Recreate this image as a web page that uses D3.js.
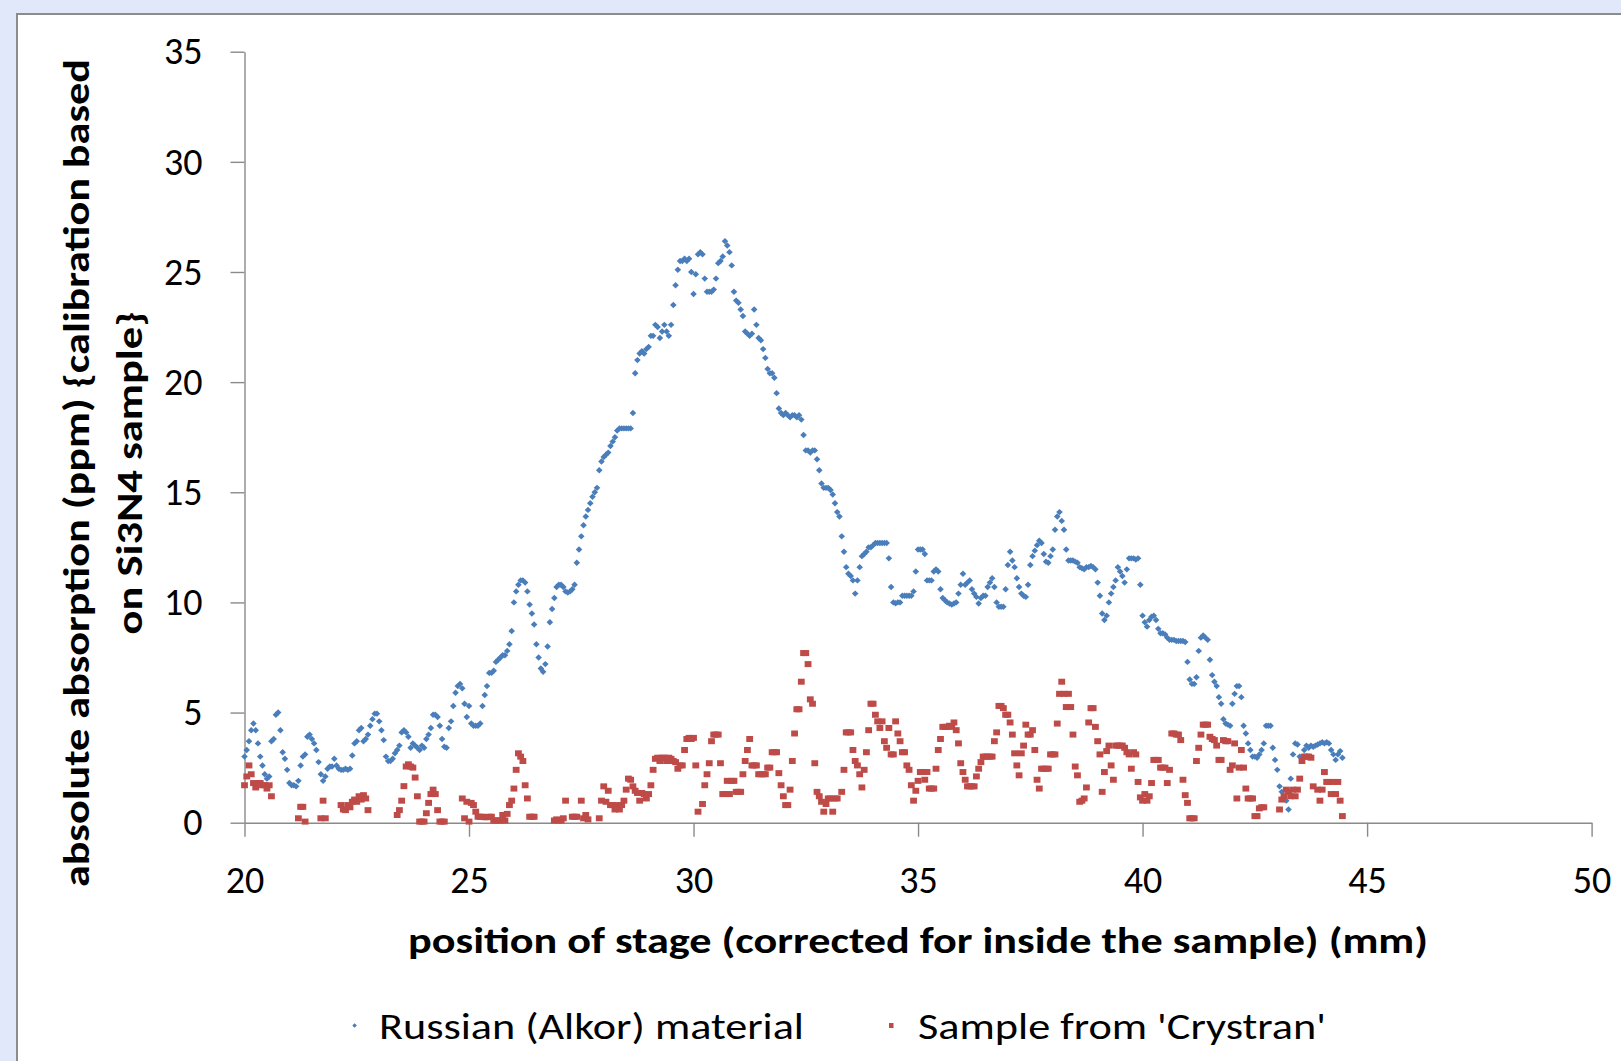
<!DOCTYPE html>
<html>
<head>
<meta charset="utf-8">
<script src="https://cdn.jsdelivr.net/npm/d3@7"></script>
<style>
  html, body { margin: 0; padding: 0; background: #E0E8F9; }
  svg { display: block; }
  text { font-family: Carlito, Calibri, Lato, "Open Sans", sans-serif; fill: #000; }
</style>
</head>
<body>
<svg id="chart" width="1621" height="1061"></svg>
<script>
// Stage scan: readings every 0.05 mm starting at 20 mm.
const scanStart = 20;
const scanStep = 0.05;

// Absorption (ppm) of the Russian (Alkor) material, one row per millimetre.
const russian = [
  3.0,3.3,3.7,4.2,4.5,4.2,3.6,3.0,2.6,2.2,2.0,2.1,3.7,3.8,4.9,5.0,4.2,3.2,2.9,2.4,
  1.8,1.7,1.7,1.65,1.9,2.6,3.0,3.1,3.9,4.0,3.8,3.6,3.3,2.75,2.2,1.9,2.1,2.45,2.55,2.55,
  2.9,2.6,2.45,2.4,2.4,2.45,2.4,2.45,3.05,3.6,3.7,4.2,4.3,3.7,3.8,4.0,4.4,4.7,4.95,4.95,
  4.6,4.2,3.75,3.0,2.8,2.8,2.9,3.15,3.3,3.5,4.1,4.2,4.1,3.9,3.4,3.6,3.5,3.4,3.3,3.5,
  3.4,3.8,4.0,4.3,4.9,4.9,4.8,4.4,3.8,3.45,3.4,4.3,4.6,5.3,5.9,6.2,6.3,6.1,5.4,4.8,
  5.3,4.5,4.4,4.4,4.4,4.5,5.3,5.8,6.2,6.8,6.8,6.9,7.3,7.4,7.5,7.6,7.6,7.8,8.1,8.7,
  10.0,10.5,10.8,11.0,11.0,10.9,10.5,9.9,9.5,9.0,8.1,7.5,7.0,6.85,7.2,8.0,9.1,9.7,10.2,10.7,
  10.8,10.8,10.7,10.5,10.45,10.5,10.6,10.8,11.8,12.4,13.0,13.5,13.9,14.2,14.5,14.8,15.0,15.2,16.0,16.4,
  16.6,16.7,16.8,17.1,17.3,17.5,17.8,17.9,17.9,17.9,17.9,17.9,17.9,18.6,20.4,21.0,21.3,21.4,21.3,21.5,
  21.6,22.1,22.1,22.6,22.5,22.0,22.3,22.6,22.3,22.1,22.6,23.5,24.4,25.1,25.5,25.5,25.6,25.5,25.6,25.0,
  24.0,24.9,25.8,25.9,25.8,24.7,24.1,24.1,24.1,24.2,24.7,25.4,25.5,25.7,26.4,26.2,25.9,25.3,24.1,23.7,
  23.6,23.3,23.0,22.3,22.2,22.1,22.2,23.3,22.6,22.0,21.9,21.5,21.1,20.6,20.4,20.4,20.2,19.5,18.8,18.6,
  18.5,18.6,18.5,18.4,18.5,18.5,18.4,18.5,18.3,17.6,16.9,16.9,16.8,16.9,16.9,16.5,16.0,15.4,15.2,15.2,
  15.2,15.1,14.9,14.5,14.1,13.9,13.0,12.3,11.6,11.3,11.2,11.0,10.4,11.0,11.6,12.1,12.2,12.3,12.5,12.5,
  12.6,12.7,12.7,12.7,12.7,12.7,12.7,12.0,10.7,10.0,9.96,10.0,10.0,10.3,10.3,10.3,10.3,10.3,10.5,11.4,
  12.4,12.4,12.4,12.2,11.0,11.0,11.0,11.4,11.5,11.4,10.6,10.2,10.1,10.0,9.95,9.9,9.95,10.0,10.4,10.8,
  11.3,10.8,10.9,11.0,10.6,10.4,10.25,9.95,10.2,10.3,10.3,10.7,10.9,11.1,10.7,10.0,9.8,9.8,9.8,10.6,
  11.7,12.3,11.9,11.6,11.1,10.7,10.4,10.3,10.25,10.8,11.7,12.1,12.35,12.6,12.8,12.7,12.2,11.85,11.8,12.1,
  12.4,13.3,13.9,14.1,13.7,13.3,12.4,11.9,11.9,11.9,11.85,11.8,11.6,11.55,11.5,11.6,11.6,11.65,11.6,11.5,
  10.9,10.3,9.5,9.2,9.4,10.0,10.4,10.7,11.0,11.6,11.4,11.2,10.9,11.5,12.0,12.0,12.0,11.95,12.0,10.8,
  9.4,9.1,8.9,9.2,9.35,9.4,9.2,8.8,8.6,8.6,8.55,8.4,8.3,8.3,8.3,8.25,8.25,8.25,8.25,8.2,
  7.3,6.5,6.3,6.3,6.6,7.8,8.4,8.5,8.4,8.3,7.4,6.7,6.4,6.2,5.7,5.4,4.7,4.5,4.45,4.4,
  5.4,5.85,6.2,6.2,5.7,4.4,4.05,3.6,3.3,3.0,3.0,2.95,3.1,3.3,3.6,4.4,4.4,4.4,3.4,2.85,
  2.4,1.65,1.4,1.2,1.0,0.6,2.0,3.1,3.6,3.55,3.0,2.9,3.3,3.5,3.4,3.5,3.45,3.5,3.55,3.6,
  3.65,3.6,3.65,3.6,3.3,3.1,2.85,3.1,3.25,2.95
];

// Absorption (ppm) of the Crystran sample; null where the reading falls below the axis.
const crystran = [
  1.7,2.1,2.6,2.2,1.8,1.6,1.8,1.8,1.7,1.7,1.55,1.7,1.2,null,null,null,null,null,null,null,
  null,null,null,null,0.2,0.72,0.72,0.05,null,null,null,null,null,null,0.2,1.0,0.2,null,null,null,
  null,null,null,0.8,0.6,0.57,0.8,0.7,0.95,1.05,0.95,1.2,1.05,1.25,1.1,0.57,null,null,null,null,
  null,null,null,null,null,null,null,null,0.35,0.57,1.0,1.66,2.55,2.65,2.55,2.5,2.05,1.2,0.05,0.05,
  0.05,0.43,0.9,1.3,1.5,1.3,0.57,0.05,0.05,0.05,null,null,null,null,null,null,null,1.1,0.2,0.95,
  0.05,0.9,0.8,0.5,0.27,0.27,0.27,0.25,0.25,0.27,0.27,0.1,0.1,0.1,0.1,0.35,0.1,0.4,0.8,1.0,
  1.55,2.4,3.15,3.0,2.8,1.7,1.1,0.27,0.27,0.27,null,null,null,null,null,null,null,null,0.1,0.15,
  0.1,0.1,0.2,1.0,null,null,0.27,0.27,0.27,null,1.0,0.2,0.35,0.15,null,null,null,null,0.2,1.0,
  1.65,0.95,1.45,0.8,0.8,0.6,0.8,0.6,0.8,1.0,1.5,2.0,1.95,1.65,1.45,1.35,1.0,1.35,1.3,1.1,
  1.3,1.7,2.4,2.9,2.95,2.8,2.95,2.95,2.8,2.95,2.9,2.8,2.75,2.45,2.6,2.6,3.3,3.8,3.85,3.8,
  3.85,2.6,0.5,null,0.85,1.7,2.2,2.7,3.7,4.0,4.0,4.0,2.7,1.3,1.3,1.9,1.3,1.9,1.9,1.4,
  1.4,1.4,2.2,2.8,3.3,3.8,2.6,2.6,2.6,2.2,2.2,2.2,2.2,2.5,2.5,3.2,3.2,3.2,2.25,1.7,
  1.2,0.8,0.8,1.5,2.8,4.05,5.15,5.15,6.4,7.7,7.7,7.2,5.6,5.4,2.7,1.4,1.2,0.95,0.5,0.85,
  1.1,1.1,0.5,1.1,1.1,null,1.4,2.4,4.1,4.1,4.1,3.3,2.8,2.6,2.2,1.6,2.4,3.2,4.2,5.4,
  5.4,4.9,4.6,4.3,4.6,3.7,3.4,4.3,3.1,3.1,4.6,4.05,3.7,3.2,3.2,2.6,2.4,1.7,1.0,1.45,
  1.9,2.3,2.3,1.95,2.3,1.55,1.55,1.55,2.45,3.3,3.8,4.35,4.35,4.35,4.4,4.35,4.55,4.2,3.6,2.7,
  2.3,1.95,1.65,1.65,1.65,1.65,2.1,2.45,2.75,3.0,3.0,3.0,3.0,3.0,3.7,4.1,5.3,5.3,5.2,4.9,
  4.9,4.55,4.0,3.15,2.6,2.15,3.15,3.5,4.45,4.0,4.0,4.2,3.3,1.95,1.55,2.45,2.45,2.45,2.45,3.1,
  3.1,3.1,4.5,5.85,6.4,5.85,5.25,5.85,5.25,4.0,2.55,2.15,0.95,1.0,1.1,1.6,4.55,5.2,5.2,4.35,
  3.7,3.1,1.4,2.3,3.25,3.5,2.6,1.95,3.5,3.5,3.5,3.5,3.4,3.2,3.1,2.45,3.2,3.1,1.85,1.15,
  1.0,1.3,1.0,1.2,1.8,2.85,2.85,2.85,2.5,2.5,2.5,1.8,2.4,4.05,4.05,4.0,4.0,3.75,1.95,1.25,
  0.9,0.2,0.2,0.2,2.8,3.4,4.0,4.45,4.45,4.45,3.9,3.8,3.75,3.5,2.85,2.85,3.75,3.7,3.7,2.4,
  2.6,3.6,1.1,2.5,3.3,2.5,1.55,1.1,1.1,1.1,0.3,0.3,0.65,0.7,0.7,null,null,null,null,null,
  null,0.6,1.05,1.2,1.5,1.4,1.2,1.5,1.2,1.5,2.0,2.8,3.0,3.0,3.0,2.95,1.65,null,1.5,1.0,
  1.5,2.3,1.85,1.85,1.3,1.85,1.3,1.85,1.0,0.3
];

const xTicks = [20, 25, 30, 35, 40, 45, 50];
const yTicks = [0, 5, 10, 15, 20, 25, 30, 35];
const seriesNames = ["Russian (Alkor) material", "Sample from 'Crystran'"];
const seriesColors = ["#4A7EBB", "#BE4B48"];
const xTitle = "position of stage (corrected for inside the sample) (mm)";
const yTitleLines = ["absolute absorption (ppm) {calibration based", "on Si3N4 sample}"];

const svg = d3.select("#chart");
const plot = { left: 244.5, right: 1591.6, top: 51.7, bottom: 822.7 };

// White chart panel with its grey frame
svg.append("rect")
  .attr("x", 17).attr("y", 14)
  .attr("width", 1700).attr("height", 1100)
  .attr("fill", "#fff")
  .attr("stroke", "#8C8C8C").attr("stroke-width", 2);

const x = d3.scaleLinear().domain([20, 50]).range([plot.left, plot.right]);
const y = d3.scaleLinear().domain([0, 35]).range([plot.bottom, plot.top]);

const axisColor = "#8A8A8A";

const yAxis = svg.append("g")
  .attr("transform", `translate(${plot.left},0)`)
  .call(d3.axisLeft(y).tickValues(yTicks).tickSize(14).tickSizeOuter(0).tickPadding(28).tickFormat(d3.format("d")));
const xAxis = svg.append("g")
  .attr("transform", `translate(0,${plot.bottom})`)
  .call(d3.axisBottom(x).tickValues(xTicks).tickSize(14).tickSizeOuter(0).tickPadding(29).tickFormat(d3.format("d")));

[xAxis, yAxis].forEach(g => {
  g.select(".domain").attr("stroke", axisColor).attr("stroke-width", 1.4);
  g.selectAll(".tick line").attr("stroke", axisColor).attr("stroke-width", 1.4);
  g.selectAll(".tick text")
    .attr("fill", "#000")
    .style("font-family", "Carlito, Calibri, Lato, sans-serif")
    .style("font-size", "38px");
});

// Readings paired with their stage position
function toPoints(values) {
  return values
    .map((v, i) => ({ pos: scanStart + i * scanStep, v }))
    .filter(d => d.v !== null);
}

const diamond = (w, h) => `M0,${-h}L${w},0L0,${h}L${-w},0Z`;

// Russian (Alkor) material: blue diamonds
svg.append("g").selectAll("path")
  .data(toPoints(russian))
  .join("path")
  .attr("d", diamond(3.3, 3.2))
  .attr("transform", d => `translate(${x(d.pos)},${y(d.v)})`)
  .attr("fill", seriesColors[0]);

// Crystran sample: red squares, drawn on top
const sq = { w: 6.8, h: 6.0 };
svg.append("g").selectAll("rect")
  .data(toPoints(crystran))
  .join("rect")
  .attr("x", d => x(d.pos) - sq.w / 2)
  .attr("y", d => y(d.v) - sq.h / 2)
  .attr("width", sq.w).attr("height", sq.h)
  .attr("fill", seriesColors[1]);

// Axis titles
svg.append("text")
  .attr("x", (plot.left + plot.right) / 2).attr("y", 953)
  .attr("text-anchor", "middle")
  .attr("textLength", 1020).attr("lengthAdjust", "spacingAndGlyphs")
  .style("font-size", "37px").style("font-weight", "bold")
  .text(xTitle);

const yTitleBase = [89, 142];
const yTitleLen = [828, 323];
yTitleLines.forEach((line, i) => {
  svg.append("text")
    .attr("transform", `translate(${yTitleBase[i]},473) rotate(-90)`)
    .attr("text-anchor", "middle")
    .attr("textLength", yTitleLen[i]).attr("lengthAdjust", "spacingAndGlyphs")
    .style("font-size", "37px").style("font-weight", "bold")
    .text(line);
});

// Legend
const legendY = 1025.5;
const legend = svg.append("g");
legend.append("path")
  .attr("d", diamond(2.3, 2.3))
  .attr("transform", `translate(354.6,${legendY})`)
  .attr("fill", seriesColors[0]);
legend.append("rect")
  .attr("x", 889).attr("y", legendY - 2.5)
  .attr("width", 4.5).attr("height", 5)
  .attr("fill", seriesColors[1]);
const legendText = [
  { x: 379, len: 425 },
  { x: 918, len: 408 }
];
seriesNames.forEach((name, i) => {
  legend.append("text")
    .attr("x", legendText[i].x).attr("y", 1039)
    .attr("textLength", legendText[i].len).attr("lengthAdjust", "spacingAndGlyphs")
    .style("font-size", "37px")
    .text(name);
});
</script>
</body>
</html>
